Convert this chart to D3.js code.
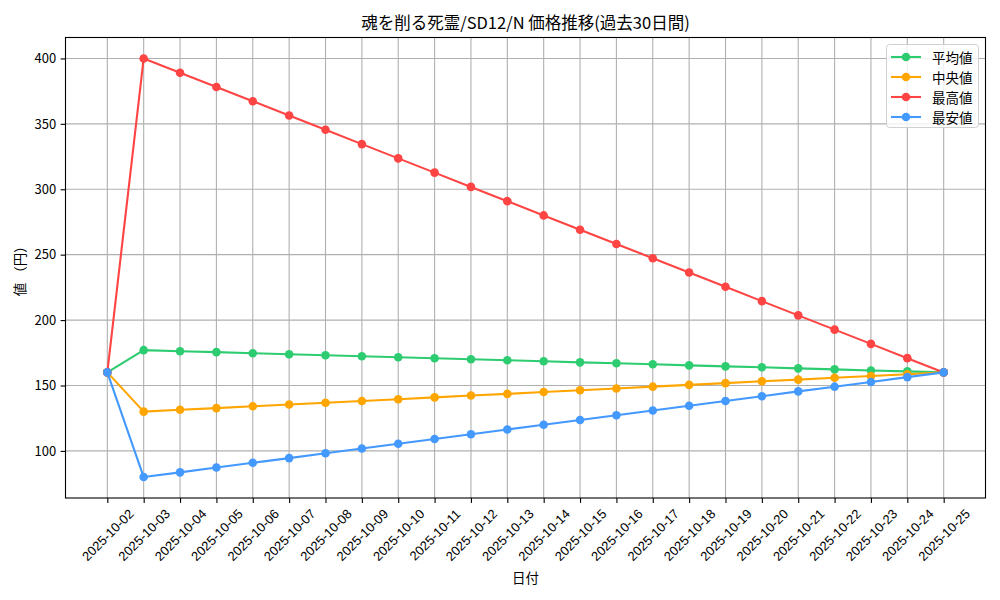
<!doctype html>
<html lang="ja">
<head>
<meta charset="utf-8" />
<title>価格推移</title>
<style>
  html, body { margin: 0; padding: 0; background: #fff; }
  svg { display: block; font-family: "Noto Sans CJK JP", "Noto Sans", sans-serif; }
  .grid line { stroke: #b0b0b0; stroke-width: 1.1; }
  .tick-label { font-size: 13px; fill: #000; }
  .date-label { font-size: 13px; fill: #000; }
</style>
</head>
<body>
<svg id="chart" width="1000" height="600"></svg>
<script src="https://cdn.jsdelivr.net/npm/d3@7/dist/d3.min.js"></script>
<script>
// data
const dates = [
  '2025-10-02', '2025-10-03', '2025-10-04', '2025-10-05', '2025-10-06', '2025-10-07',
  '2025-10-08', '2025-10-09', '2025-10-10', '2025-10-11', '2025-10-12', '2025-10-13',
  '2025-10-14', '2025-10-15', '2025-10-16', '2025-10-17', '2025-10-18', '2025-10-19',
  '2025-10-20', '2025-10-21', '2025-10-22', '2025-10-23', '2025-10-24', '2025-10-25',
];
const avgPrice = [160, 177, 176.2, 175.5, 174.7, 173.9, 173.1, 172.4, 171.6, 170.8, 170.1, 169.3,
  168.5, 167.7, 167.0, 166.2, 165.4, 164.6, 163.9, 163.1, 162.3, 161.5, 160.8, 160];
const medianPrice = [160, 130, 131.4, 132.7, 134.1, 135.5, 136.8, 138.2, 139.5, 140.9, 142.3, 143.6,
  145, 146.4, 147.7, 149.1, 150.5, 151.8, 153.2, 154.5, 155.9, 157.3, 158.6, 160];
const maxPrice = [160, 400, 389.1, 378.2, 367.3, 356.4, 345.5, 334.5, 323.6, 312.7, 301.8, 290.9,
  280, 269.1, 258.2, 247.3, 236.4, 225.5, 214.5, 203.6, 192.7, 181.8, 170.9, 160];
const minPrice = [160, 80, 83.6, 87.3, 90.9, 94.5, 98.2, 101.8, 105.5, 109.1, 112.7, 116.4,
  120, 123.6, 127.3, 130.9, 134.5, 138.2, 141.8, 145.5, 149.1, 152.7, 156.4, 160];

const seriesNames = ['平均値', '中央値', '最高値', '最安値'];
const seriesColors = ['#2ecc71', '#ffa500', '#ff4444', '#4499ff'];
const yTicks = [100, 150, 200, 250, 300, 350, 400];

const title = '魂を削る死霊/SD12/N 価格推移(過去30日間)';
const xLabel = '日付';
const yLabel = '値 （円）';

const parseDate = d3.timeParse('%Y-%m-%d');
const parsed = dates.map(parseDate);

const series = [avgPrice, medianPrice, maxPrice, minPrice].map((vals, i) => ({
  name: seriesNames[i],
  color: seriesColors[i],
  points: vals.map((v, j) => ({ date: parsed[j], value: v })),
}));

const plot = { left: 65.5, right: 985.5, top: 37.5, bottom: 498 };
const svg = d3.select('#chart');

// matplotlib-style 5% margins on the date axis
const t0 = parsed[0].getTime(), t1 = parsed[parsed.length - 1].getTime();
const pad = (t1 - t0) * 0.05;
const x = d3.scaleTime().domain([new Date(t0 - pad), new Date(t1 + pad)]).range([plot.left, plot.right]);
const y = d3.scaleLinear().domain([64, 416]).range([plot.bottom, plot.top]);

// grid
const grid = svg.append('g').attr('class', 'grid');
grid.selectAll('line.v').data(parsed).join('line').attr('class', 'v')
  .attr('x1', d => x(d)).attr('x2', d => x(d)).attr('y1', plot.top).attr('y2', plot.bottom);
grid.selectAll('line.h').data(yTicks).join('line').attr('class', 'h')
  .attr('x1', plot.left).attr('x2', plot.right).attr('y1', d => y(d)).attr('y2', d => y(d));

// axes
const xAxis = d3.axisBottom(x).tickValues(parsed).tickSize(4.9).tickFormat('');
const gx = svg.append('g').attr('transform', `translate(0,${plot.bottom})`).call(xAxis);
gx.select('.domain').remove();
gx.selectAll('.tick line').attr('stroke', '#000').attr('stroke-width', 1.1);
gx.selectAll('.tick').append('text')
  .attr('class', 'date-label')
  .attr('text-anchor', 'middle')
  .attr('dominant-baseline', 'central')
  .attr('transform', 'translate(0,37) rotate(-45)')
  .text((d, i) => dates[i]);

const yAxis = d3.axisLeft(y).tickValues(yTicks).tickSize(4.9).tickPadding(4.5);
const gy = svg.append('g').attr('transform', `translate(${plot.left},0)`).call(yAxis);
gy.select('.domain').remove();
gy.selectAll('.tick line').attr('stroke', '#000').attr('stroke-width', 1.1);
gy.selectAll('.tick text').attr('class', 'tick-label');
gy.attr('font-family', null).attr('font-size', null);

// lines + markers
const line = d3.line().x(d => x(d.date)).y(d => y(d.value));
for (const s of series) {
  svg.append('path').datum(s.points)
    .attr('fill', 'none').attr('stroke', s.color).attr('stroke-width', 2.1)
    .attr('stroke-linejoin', 'round').attr('d', line);
  svg.append('g').selectAll('circle').data(s.points).join('circle')
    .attr('cx', d => x(d.date)).attr('cy', d => y(d.value)).attr('r', 4.3)
    .attr('fill', s.color);
}

// frame
svg.append('rect')
  .attr('x', plot.left).attr('y', plot.top)
  .attr('width', plot.right - plot.left).attr('height', plot.bottom - plot.top)
  .attr('fill', 'none').attr('stroke', '#000').attr('stroke-width', 1.1);

// title and axis labels
svg.append('text').attr('x', (plot.left + plot.right) / 2).attr('y', 29)
  .attr('text-anchor', 'middle').attr('font-size', 16.5).text(title);
svg.append('text').attr('x', (plot.left + plot.right) / 2).attr('y', 583)
  .attr('text-anchor', 'middle').attr('font-size', 13.5).text(xLabel);
svg.append('text')
  .attr('transform', `translate(25,${(plot.top + plot.bottom) / 2}) rotate(-90)`)
  .attr('text-anchor', 'middle').attr('font-size', 13.5).text(yLabel);

// legend
const lg = svg.append('g').attr('transform', 'translate(886.5,44.5)');
lg.append('rect').attr('width', 92).attr('height', 83).attr('rx', 3)
  .attr('fill', '#fff').attr('fill-opacity', 0.8).attr('stroke', '#d0d0d0');
const rows = lg.selectAll('g.row').data(series).join('g').attr('class', 'row')
  .attr('transform', (d, i) => `translate(0,${12.5 + i * 20})`);
rows.append('line').attr('x1', 4.5).attr('x2', 34.5)
  .attr('stroke', d => d.color).attr('stroke-width', 2.1);
rows.append('circle').attr('cx', 19.5).attr('r', 4.3).attr('fill', d => d.color);
rows.append('text').attr('x', 45.5).attr('dominant-baseline', 'central')
  .attr('font-size', 13.5).text(d => d.name);
</script>
</body>
</html>
